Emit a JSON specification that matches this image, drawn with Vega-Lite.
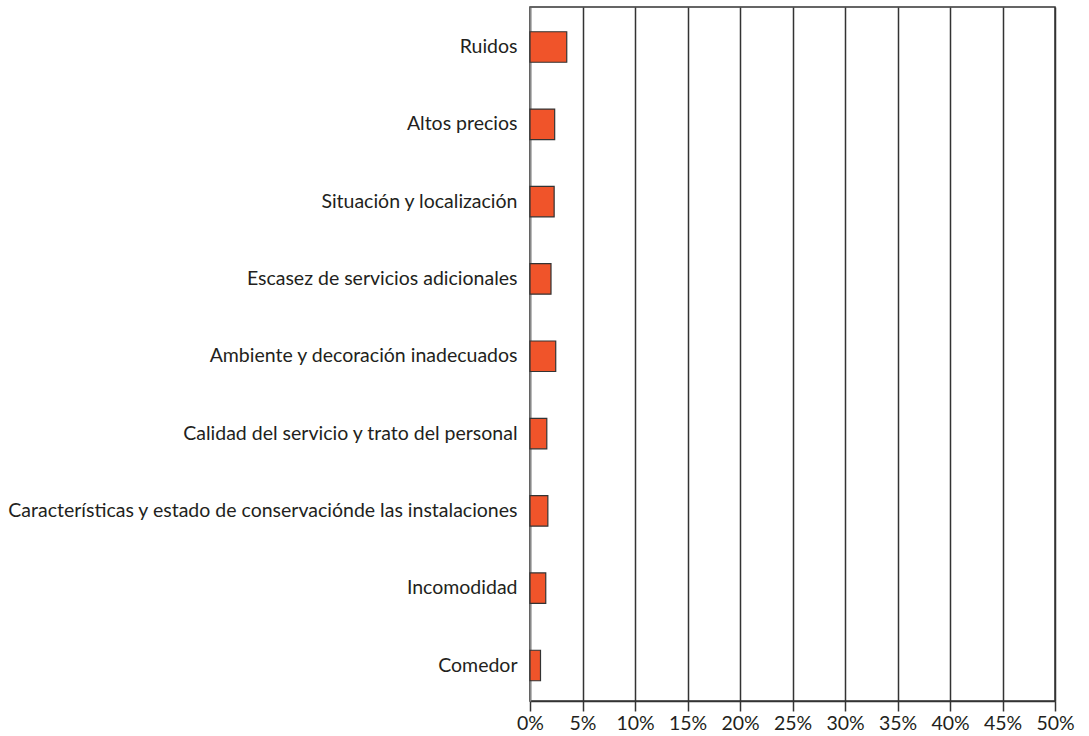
{
  "$schema": "https://vega.github.io/schema/vega-lite/v6.json",
  "autosize": {"type": "none"},
  "width": 525,
  "height": 694,
  "padding": {"left": 530, "top": 7, "right": 34, "bottom": 35},
  "background": "white",
  "data": {"values": [
    {"motivo": "Ruidos", "valor": 0.035},
    {"motivo": "Altos precios", "valor": 0.0235},
    {"motivo": "Situación y localización", "valor": 0.023},
    {"motivo": "Escasez de servicios adicionales", "valor": 0.02},
    {"motivo": "Ambiente y decoración inadecuados", "valor": 0.0245},
    {"motivo": "Calidad del servicio y trato del personal", "valor": 0.016},
    {"motivo": "Características y estado de conservaciónde las instalaciones", "valor": 0.017},
    {"motivo": "Incomodidad", "valor": 0.015},
    {"motivo": "Comedor", "valor": 0.01}
  ]},
  "config": {
    "view": {"stroke": "#333333", "strokeWidth": 1.5},
    "font": "Lato"
  },
  "mark": {"type": "bar", "color": "#F0542A", "stroke": "#333333", "strokeWidth": 1.2},
  "encoding": {
    "y": {
      "field": "motivo", "type": "nominal", "sort": null,
      "scale": {"paddingInner": 0.6055, "paddingOuter": 0.291, "align": 0.55},
      "axis": {"title": null, "ticks": false, "labelLimit": 600, "labelPadding": 13, "labelFontSize": 19.5, "labelColor": "#231F20", "labelFont": "Lato", "domainColor": "#888888", "domainWidth": 1.5}
    },
    "x": {
      "field": "valor", "type": "quantitative",
      "scale": {"domain": [0, 0.5], "nice": false},
      "axis": {"title": null, "format": ".0%", "values": [0, 0.05, 0.1, 0.15, 0.2, 0.25, 0.3, 0.35, 0.4, 0.45, 0.5], "grid": true, "gridColor": "#333333", "gridWidth": 1.5, "gridOpacity": 1, "tickColor": "#333333", "tickWidth": 1.5, "tickSize": 10, "domainColor": "#333333", "domainWidth": 1.5, "labelFontSize": 19.5, "labelColor": "#231F20", "labelFont": "Lato", "labelPadding": 3, "labelFlush": false}
    }
  }
}
